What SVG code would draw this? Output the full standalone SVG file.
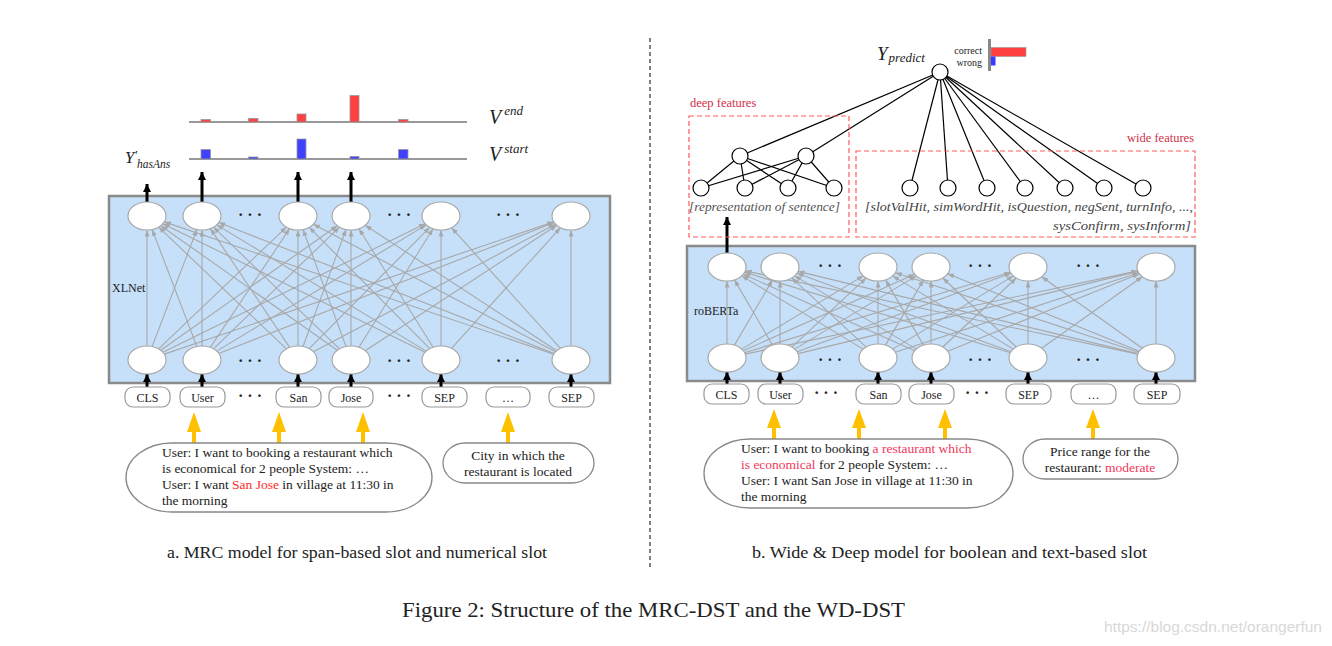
<svg xmlns="http://www.w3.org/2000/svg" width="1332" height="646" viewBox="0 0 1332 646">
<style>
text{font-family:"Liberation Serif","Times New Roman",serif;fill:#222}
.mi{font-style:italic}
.e{stroke:#a8a8a8;stroke-width:1.1;fill:none}
.k{stroke:#000;stroke-width:1.2;fill:none}
.ba{stroke:#000;stroke-width:3;fill:none}
.box{fill:#c6e0fa;stroke:#8a8a8a;stroke-width:2.5}
.nd{fill:#fff;stroke:#aaa;stroke-width:1.2}
.cn{fill:#fff;stroke:#000;stroke-width:1.2}
.tk{fill:#fff;stroke:#999;stroke-width:1.2}
.tt{font-size:12px;text-anchor:middle}
.dots{font-size:16px;text-anchor:middle;font-weight:bold}
.bub{fill:#fff;stroke:#888;stroke-width:1.3}
.bt{font-size:13.5px}
.red{fill:#ff2a2a}
.pink{fill:#f5365c}
.dash{fill:none;stroke:#ff5a5a;stroke-width:1.2;stroke-dasharray:5,3}
.lab{fill:#d0304a;font-size:12.5px}
.ya{fill:#ffc000}
.bl{stroke:#777;stroke-width:1.6}
.rb{fill:#ff4040;stroke:#999;stroke-width:0.8}
.bb{fill:#4040ff;stroke:#999;stroke-width:0.8}
</style>
<defs>
<marker id="ga" markerUnits="userSpaceOnUse" markerWidth="7" markerHeight="6" refX="6.5" refY="2.5" orient="auto"><path d="M0,0 L6.5,2.5 L0,5 z" fill="#a8a8a8"/></marker>
<marker id="ka" markerUnits="userSpaceOnUse" markerWidth="9" markerHeight="9" refX="8" refY="4" orient="auto"><path d="M0,0 L8,4 L0,8 z" fill="#000"/></marker>
</defs>
<rect width="1332" height="646" fill="#fff"/>

<!-- divider -->
<line x1="650" y1="38" x2="650" y2="568" stroke="#000" stroke-width="1" stroke-dasharray="4,3"/>

<!-- ===== LEFT PANEL ===== -->
<g id="xlnet-box">
<rect class="box" x="109" y="196" width="501" height="187"/>
<text x="112" y="292" font-size="12">XLNet</text>
</g>

<g id="left-bars">
<line class="bl" x1="189" y1="122" x2="467" y2="122"/>
<rect class="rb" x="201" y="119.5" width="9.5" height="2.5"/>
<rect class="rb" x="248.5" y="118.5" width="9.5" height="3.5"/>
<rect class="rb" x="297" y="114" width="9" height="8"/>
<rect class="rb" x="350" y="95.5" width="9" height="26.5"/>
<rect class="rb" x="398.5" y="119.5" width="9.5" height="2.5"/>
<line class="bl" x1="189" y1="159" x2="467" y2="159"/>
<rect class="bb" x="201" y="149.5" width="9.5" height="9.5"/>
<rect class="bb" x="248.5" y="157" width="9.5" height="2"/>
<rect class="bb" x="297" y="139" width="9" height="20"/>
<rect class="bb" x="350" y="156.5" width="9" height="2.5"/>
<rect class="bb" x="398.5" y="149.5" width="9.5" height="9.5"/>
<text x="489" y="124" class="mi" font-size="20">V<tspan font-size="13" dx="3" dy="-9">end</tspan></text>
<text x="489" y="161" class="mi" font-size="20">V<tspan font-size="13" dx="3" dy="-8">start</tspan></text>
<text x="125" y="163" class="mi" font-size="16.5">Y<tspan font-size="13" dy="-4">′</tspan><tspan font-size="11.5" dy="9">hasAns</tspan></text>
</g>

<g id="left-edges">
<line class="e" marker-end="url(#ga)" x1="147" y1="346" x2="147" y2="230"/>
<line class="e" marker-end="url(#ga)" x1="152.15" y1="346.52" x2="196.85" y2="229.48"/>
<line class="e" marker-end="url(#ga)" x1="158.62" y1="348.92" x2="286.38" y2="227.08"/>
<line class="e" marker-end="url(#ga)" x1="160.72" y1="350.32" x2="337.28" y2="225.68"/>
<line class="e" marker-end="url(#ga)" x1="162.82" y1="352.25" x2="425.18" y2="223.75"/>
<line class="e" marker-end="url(#ga)" x1="164.26" y1="354.14" x2="553.74" y2="221.86"/>
<line class="e" marker-end="url(#ga)" x1="196.85" y1="346.52" x2="152.15" y2="229.48"/>
<line class="e" marker-end="url(#ga)" x1="202" y1="346" x2="202" y2="230"/>
<line class="e" marker-end="url(#ga)" x1="210.38" y1="347.43" x2="289.62" y2="228.57"/>
<line class="e" marker-end="url(#ga)" x1="213.52" y1="348.87" x2="339.48" y2="227.13"/>
<line class="e" marker-end="url(#ga)" x1="216.71" y1="351.14" x2="426.29" y2="224.86"/>
<line class="e" marker-end="url(#ga)" x1="218.79" y1="353.45" x2="554.21" y2="222.55"/>
<line class="e" marker-end="url(#ga)" x1="286.38" y1="348.92" x2="158.62" y2="227.08"/>
<line class="e" marker-end="url(#ga)" x1="289.62" y1="347.43" x2="210.38" y2="228.57"/>
<line class="e" marker-end="url(#ga)" x1="298" y1="346" x2="298" y2="230"/>
<line class="e" marker-end="url(#ga)" x1="302.97" y1="346.49" x2="346.03" y2="229.51"/>
<line class="e" marker-end="url(#ga)" x1="309.22" y1="348.7" x2="429.78" y2="227.3"/>
<line class="e" marker-end="url(#ga)" x1="313.45" y1="351.85" x2="555.55" y2="224.15"/>
<line class="e" marker-end="url(#ga)" x1="337.28" y1="350.32" x2="160.72" y2="225.68"/>
<line class="e" marker-end="url(#ga)" x1="339.48" y1="348.87" x2="213.52" y2="227.13"/>
<line class="e" marker-end="url(#ga)" x1="346.03" y1="346.49" x2="302.97" y2="229.51"/>
<line class="e" marker-end="url(#ga)" x1="351" y1="346" x2="351" y2="230"/>
<line class="e" marker-end="url(#ga)" x1="358.95" y1="347.28" x2="433.05" y2="228.72"/>
<line class="e" marker-end="url(#ga)" x1="365.2" y1="350.7" x2="556.8" y2="225.3"/>
<line class="e" marker-end="url(#ga)" x1="425.18" y1="352.25" x2="162.82" y2="223.75"/>
<line class="e" marker-end="url(#ga)" x1="426.29" y1="351.14" x2="216.71" y2="224.86"/>
<line class="e" marker-end="url(#ga)" x1="429.78" y1="348.7" x2="309.22" y2="227.3"/>
<line class="e" marker-end="url(#ga)" x1="433.05" y1="347.28" x2="358.95" y2="228.72"/>
<line class="e" marker-end="url(#ga)" x1="441" y1="346" x2="441" y2="230"/>
<line class="e" marker-end="url(#ga)" x1="451.52" y1="348.34" x2="560.48" y2="227.66"/>
<line class="e" marker-end="url(#ga)" x1="553.74" y1="354.14" x2="164.26" y2="221.86"/>
<line class="e" marker-end="url(#ga)" x1="554.21" y1="353.45" x2="218.79" y2="222.55"/>
<line class="e" marker-end="url(#ga)" x1="555.55" y1="351.85" x2="313.45" y2="224.15"/>
<line class="e" marker-end="url(#ga)" x1="556.8" y1="350.7" x2="365.2" y2="225.3"/>
<line class="e" marker-end="url(#ga)" x1="560.48" y1="348.34" x2="451.52" y2="227.66"/>
<line class="e" marker-end="url(#ga)" x1="571" y1="346" x2="571" y2="230"/>
<!-- black arrows -->
<line class="ba" marker-end="url(#ka)" x1="147" y1="202" x2="147" y2="184"/>
<line class="ba" marker-end="url(#ka)" x1="202" y1="202" x2="202" y2="172"/>
<line class="ba" marker-end="url(#ka)" x1="298" y1="202" x2="298" y2="172"/>
<line class="ba" marker-end="url(#ka)" x1="351" y1="202" x2="351" y2="172"/>
<line class="ba" stroke-width="2.5" marker-end="url(#ka)" x1="147" y1="387" x2="147" y2="374"/>
<line class="ba" stroke-width="2.5" marker-end="url(#ka)" x1="202" y1="387" x2="202" y2="374"/>
<line class="ba" stroke-width="2.5" marker-end="url(#ka)" x1="298" y1="387" x2="298" y2="374"/>
<line class="ba" stroke-width="2.5" marker-end="url(#ka)" x1="351" y1="387" x2="351" y2="374"/>
<line class="ba" stroke-width="2.5" marker-end="url(#ka)" x1="441" y1="387" x2="441" y2="374"/>
<line class="ba" stroke-width="2.5" marker-end="url(#ka)" x1="571" y1="387" x2="571" y2="374"/>
<!-- yellow arrows -->
<path class="ya" d="M192,443 V432 H187 L194,412 L201,432 H196 V443 Z"/>
<path class="ya" d="M277,443 V432 H272 L279,412 L286,432 H281 V443 Z"/>
<path class="ya" d="M361,443 V432 H356 L363,412 L370,432 H365 V443 Z"/>
<path class="ya" d="M506,443 V432 H501 L508,412 L515,432 H510 V443 Z"/>
</g>

<g id="left-nodes">
<ellipse class="nd" cx="147" cy="216" rx="19" ry="14"/>
<ellipse class="nd" cx="202" cy="216" rx="19" ry="14"/>
<ellipse class="nd" cx="298" cy="216" rx="19" ry="14"/>
<ellipse class="nd" cx="351" cy="216" rx="19" ry="14"/>
<ellipse class="nd" cx="441" cy="216" rx="19" ry="14"/>
<ellipse class="nd" cx="571" cy="216" rx="19" ry="14"/>
<ellipse class="nd" cx="147" cy="360" rx="19" ry="14"/>
<ellipse class="nd" cx="202" cy="360" rx="19" ry="14"/>
<ellipse class="nd" cx="298" cy="360" rx="19" ry="14"/>
<ellipse class="nd" cx="351" cy="360" rx="19" ry="14"/>
<ellipse class="nd" cx="441" cy="360" rx="19" ry="14"/>
<ellipse class="nd" cx="571" cy="360" rx="19" ry="14"/>
<text class="dots" x="250" y="220">· · ·</text>
<text class="dots" x="399" y="220">· · ·</text>
<text class="dots" x="508" y="220">· · ·</text>
<text class="dots" x="250" y="366">· · ·</text>
<text class="dots" x="399" y="366">· · ·</text>
<text class="dots" x="508" y="366">· · ·</text>
</g>

<g id="left-tokens">
<rect class="tk" x="125" y="387" width="45" height="20" rx="8"/><text class="tt" x="147.5" y="401.5">CLS</text>
<rect class="tk" x="180" y="387" width="45" height="20" rx="8"/><text class="tt" x="202.5" y="401.5">User</text>
<text class="dots" x="250" y="401">· · ·</text>
<rect class="tk" x="276" y="387" width="45" height="20" rx="8"/><text class="tt" x="298.5" y="401.5">San</text>
<rect class="tk" x="329" y="387" width="44" height="20" rx="8"/><text class="tt" x="351" y="401.5">Jose</text>
<text class="dots" x="399" y="401">· · ·</text>
<rect class="tk" x="422" y="387" width="45" height="20" rx="8"/><text class="tt" x="444.5" y="401.5">SEP</text>
<rect class="tk" x="486" y="387" width="44" height="20" rx="8"/><text class="tt" x="508" y="401.5">…</text>
<rect class="tk" x="549" y="387" width="45" height="20" rx="8"/><text class="tt" x="571.5" y="401.5">SEP</text>
</g>

<g id="left-context">
<rect class="bub" x="126" y="443" width="306" height="69" rx="46" ry="34.5"/>
<text class="bt" x="162" y="457">User: I want to booking a restaurant which</text>
<text class="bt" x="162" y="473">is economical for 2 people System: …</text>
<text class="bt" x="162" y="489">User: I want <tspan class="red">San Jose</tspan> in village at 11:30 in</text>
<text class="bt" x="162" y="505">the morning</text>
</g>

<g id="left-slot">
<rect class="bub" x="443" y="443" width="151" height="40" rx="22" ry="20"/>
<text class="bt" x="518" y="460" text-anchor="middle">City in which the</text>
<text class="bt" x="518" y="476" text-anchor="middle">restaurant is located</text>
</g>

<text x="167" y="558" font-size="17.5" textLength="380" lengthAdjust="spacingAndGlyphs">a. MRC model for span-based slot and numerical slot</text>

<!-- ===== RIGHT PANEL ===== -->
<g id="roberta-box">
<rect class="box" x="687" y="246" width="508" height="135"/>
<text x="694" y="315" font-size="12">roBERTa</text>
</g>

<g id="right-edges">
<line class="e" marker-end="url(#ga)" x1="727" y1="344" x2="727" y2="281"/>
<line class="e" marker-end="url(#ga)" x1="734.49" y1="345.13" x2="772.51" y2="279.87"/>
<line class="e" marker-end="url(#ga)" x1="741.71" y1="349.14" x2="863.29" y2="275.86"/>
<line class="e" marker-end="url(#ga)" x1="743.25" y1="350.75" x2="914.75" y2="274.25"/>
<line class="e" marker-end="url(#ga)" x1="744.58" y1="352.69" x2="1010.42" y2="272.31"/>
<line class="e" marker-end="url(#ga)" x1="745.26" y1="354.13" x2="1137.74" y2="270.87"/>
<line class="e" marker-end="url(#ga)" x1="772.51" y1="345.13" x2="734.49" y2="279.87"/>
<line class="e" marker-end="url(#ga)" x1="780" y1="344" x2="780" y2="281"/>
<line class="e" marker-end="url(#ga)" x1="791.81" y1="347.03" x2="866.19" y2="277.97"/>
<line class="e" marker-end="url(#ga)" x1="794.71" y1="349.14" x2="916.29" y2="275.86"/>
<line class="e" marker-end="url(#ga)" x1="797.01" y1="351.76" x2="1010.99" y2="273.24"/>
<line class="e" marker-end="url(#ga)" x1="798.05" y1="353.63" x2="1137.95" y2="271.37"/>
<line class="e" marker-end="url(#ga)" x1="863.29" y1="349.14" x2="741.71" y2="275.86"/>
<line class="e" marker-end="url(#ga)" x1="866.19" y1="347.03" x2="791.81" y2="277.97"/>
<line class="e" marker-end="url(#ga)" x1="878" y1="344" x2="878" y2="281"/>
<line class="e" marker-end="url(#ga)" x1="885.49" y1="345.13" x2="923.51" y2="279.87"/>
<line class="e" marker-end="url(#ga)" x1="892.67" y1="349.1" x2="1013.33" y2="275.9"/>
<line class="e" marker-end="url(#ga)" x1="895.36" y1="352.32" x2="1138.64" y2="272.68"/>
<line class="e" marker-end="url(#ga)" x1="914.75" y1="350.75" x2="743.25" y2="274.25"/>
<line class="e" marker-end="url(#ga)" x1="916.29" y1="349.14" x2="794.71" y2="275.86"/>
<line class="e" marker-end="url(#ga)" x1="923.51" y1="345.13" x2="885.49" y2="279.87"/>
<line class="e" marker-end="url(#ga)" x1="931" y1="344" x2="931" y2="281"/>
<line class="e" marker-end="url(#ga)" x1="942.74" y1="346.99" x2="1016.26" y2="278.01"/>
<line class="e" marker-end="url(#ga)" x1="947.66" y1="351.26" x2="1139.34" y2="273.74"/>
<line class="e" marker-end="url(#ga)" x1="1010.42" y1="352.69" x2="744.58" y2="272.31"/>
<line class="e" marker-end="url(#ga)" x1="1010.99" y1="351.76" x2="797.01" y2="273.24"/>
<line class="e" marker-end="url(#ga)" x1="1013.33" y1="349.1" x2="892.67" y2="275.9"/>
<line class="e" marker-end="url(#ga)" x1="1016.26" y1="346.99" x2="942.74" y2="278.01"/>
<line class="e" marker-end="url(#ga)" x1="1028" y1="344" x2="1028" y2="281"/>
<line class="e" marker-end="url(#ga)" x1="1041.67" y1="348.28" x2="1142.33" y2="276.72"/>
<line class="e" marker-end="url(#ga)" x1="1137.74" y1="354.13" x2="745.26" y2="270.87"/>
<line class="e" marker-end="url(#ga)" x1="1137.95" y1="353.63" x2="798.05" y2="271.37"/>
<line class="e" marker-end="url(#ga)" x1="1138.64" y1="352.32" x2="895.36" y2="272.68"/>
<line class="e" marker-end="url(#ga)" x1="1139.34" y1="351.26" x2="947.66" y2="273.74"/>
<line class="e" marker-end="url(#ga)" x1="1142.33" y1="348.28" x2="1041.67" y2="276.72"/>
<line class="e" marker-end="url(#ga)" x1="1156" y1="344" x2="1156" y2="281"/>
<!-- black arrows -->
<line class="ba" marker-end="url(#ka)" x1="727" y1="253" x2="727" y2="217"/>
<line class="ba" stroke-width="2.5" marker-end="url(#ka)" x1="727" y1="384" x2="727" y2="372"/>
<line class="ba" stroke-width="2.5" marker-end="url(#ka)" x1="780" y1="384" x2="780" y2="372"/>
<line class="ba" stroke-width="2.5" marker-end="url(#ka)" x1="878" y1="384" x2="878" y2="372"/>
<line class="ba" stroke-width="2.5" marker-end="url(#ka)" x1="931" y1="384" x2="931" y2="372"/>
<line class="ba" stroke-width="2.5" marker-end="url(#ka)" x1="1028" y1="384" x2="1028" y2="372"/>
<line class="ba" stroke-width="2.5" marker-end="url(#ka)" x1="1156" y1="384" x2="1156" y2="372"/>
<!-- yellow arrows -->
<path class="ya" d="M772,439 V428 H767 L774,409 L781,428 H776 V439 Z"/>
<path class="ya" d="M857,439 V428 H852 L859,409 L866,428 H861 V439 Z"/>
<path class="ya" d="M943,439 V428 H938 L945,409 L952,428 H947 V439 Z"/>
<path class="ya" d="M1091,439 V428 H1086 L1093,409 L1100,428 H1095 V439 Z"/>
<!-- wide & deep edges -->
<line class="k" x1="940" y1="72" x2="740" y2="156"/>
<line class="k" x1="940" y1="72" x2="806" y2="156"/>
<line class="k" x1="940" y1="72" x2="910" y2="188"/>
<line class="k" x1="940" y1="72" x2="948" y2="188"/>
<line class="k" x1="940" y1="72" x2="987" y2="188"/>
<line class="k" x1="940" y1="72" x2="1025" y2="188"/>
<line class="k" x1="940" y1="72" x2="1065" y2="188"/>
<line class="k" x1="940" y1="72" x2="1104" y2="188"/>
<line class="k" x1="940" y1="72" x2="1143" y2="188"/>
<line class="k" x1="740" y1="156" x2="701" y2="188"/>
<line class="k" x1="740" y1="156" x2="745" y2="188"/>
<line class="k" x1="740" y1="156" x2="788" y2="188"/>
<line class="k" x1="740" y1="156" x2="834" y2="188"/>
<line class="k" x1="806" y1="156" x2="701" y2="188"/>
<line class="k" x1="806" y1="156" x2="745" y2="188"/>
<line class="k" x1="806" y1="156" x2="788" y2="188"/>
<line class="k" x1="806" y1="156" x2="834" y2="188"/>
</g>

<g id="right-nodes">
<ellipse class="nd" cx="727" cy="267" rx="19" ry="14"/>
<ellipse class="nd" cx="780" cy="267" rx="19" ry="14"/>
<ellipse class="nd" cx="878" cy="267" rx="19" ry="14"/>
<ellipse class="nd" cx="931" cy="267" rx="19" ry="14"/>
<ellipse class="nd" cx="1028" cy="267" rx="19" ry="14"/>
<ellipse class="nd" cx="1156" cy="267" rx="19" ry="14"/>
<ellipse class="nd" cx="727" cy="358" rx="19" ry="14"/>
<ellipse class="nd" cx="780" cy="358" rx="19" ry="14"/>
<ellipse class="nd" cx="878" cy="358" rx="19" ry="14"/>
<ellipse class="nd" cx="931" cy="358" rx="19" ry="14"/>
<ellipse class="nd" cx="1028" cy="358" rx="19" ry="14"/>
<ellipse class="nd" cx="1156" cy="358" rx="19" ry="14"/>
<text class="dots" x="830" y="271">· · ·</text>
<text class="dots" x="980" y="271">· · ·</text>
<text class="dots" x="1088" y="271">· · ·</text>
<text class="dots" x="830" y="365">· · ·</text>
<text class="dots" x="980" y="365">· · ·</text>
<text class="dots" x="1088" y="365">· · ·</text>
</g>

<g id="right-tokens">
<rect class="tk" x="704" y="384" width="45" height="20" rx="8"/><text class="tt" x="726.5" y="398.5">CLS</text>
<rect class="tk" x="758" y="384" width="45" height="20" rx="8"/><text class="tt" x="780.5" y="398.5">User</text>
<text class="dots" x="826" y="398">· · ·</text>
<rect class="tk" x="856" y="384" width="45" height="20" rx="8"/><text class="tt" x="878.5" y="398.5">San</text>
<rect class="tk" x="909" y="384" width="45" height="20" rx="8"/><text class="tt" x="931.5" y="398.5">Jose</text>
<text class="dots" x="977" y="398">· · ·</text>
<rect class="tk" x="1006" y="384" width="45" height="20" rx="8"/><text class="tt" x="1028.5" y="398.5">SEP</text>
<rect class="tk" x="1071" y="384" width="45" height="20" rx="8"/><text class="tt" x="1093.5" y="398.5">…</text>
<rect class="tk" x="1134" y="384" width="46" height="20" rx="8"/><text class="tt" x="1157" y="398.5">SEP</text>
</g>

<g id="deep-features">
<rect class="dash" x="689" y="116" width="160" height="121"/>
<text class="lab" x="690" y="107">deep features</text>
<circle class="cn" cx="740" cy="156" r="8"/>
<circle class="cn" cx="806" cy="156" r="8"/>
<circle class="cn" cx="701" cy="188" r="8"/>
<circle class="cn" cx="745" cy="188" r="8"/>
<circle class="cn" cx="788" cy="188" r="8"/>
<circle class="cn" cx="834" cy="188" r="8"/>
<text x="689" y="211" class="mi" font-size="12" style="fill:#555" textLength="151" lengthAdjust="spacingAndGlyphs">[representation of sentence]</text>
</g>

<g id="wide-features">
<rect class="dash" x="856" y="151" width="339" height="86"/>
<text class="lab" x="1194" y="142" text-anchor="end">wide features</text>
<circle class="cn" cx="910" cy="188" r="8"/>
<circle class="cn" cx="948" cy="188" r="8"/>
<circle class="cn" cx="987" cy="188" r="8"/>
<circle class="cn" cx="1025" cy="188" r="8"/>
<circle class="cn" cx="1065" cy="188" r="8"/>
<circle class="cn" cx="1104" cy="188" r="8"/>
<circle class="cn" cx="1143" cy="188" r="8"/>
<text x="865" y="211" class="mi" font-size="12" style="fill:#444" textLength="328" lengthAdjust="spacingAndGlyphs">[slotValHit, simWordHit, isQuestion, negSent, turnInfo, ...,</text>
<text x="1053" y="230" class="mi" font-size="12" style="fill:#444" textLength="138" lengthAdjust="spacingAndGlyphs">sysConfirm, sysInform]</text>
</g>

<g id="y-predict">
<circle class="cn" cx="940" cy="72" r="8"/>
<text x="877" y="60" class="mi" font-size="19">Y<tspan font-size="13" dx="1" dy="2">predict</tspan></text>
<text x="982" y="54" font-size="10" text-anchor="end">correct</text>
<text x="982" y="66" font-size="10" text-anchor="end">wrong</text>
<line x1="989.5" y1="39" x2="989.5" y2="71" stroke="#888" stroke-width="3"/>
<rect x="991" y="47.5" width="35" height="9" fill="#ff4040" stroke="#999" stroke-width="0.6"/>
<rect x="991" y="56.5" width="4.5" height="9" fill="#3a3aff"/>
</g>

<g id="right-context">
<rect class="bub" x="704" y="439" width="309" height="69" rx="46" ry="34.5"/>
<text class="bt" x="741" y="453">User: I want to booking <tspan class="pink">a restaurant which</tspan></text>
<text class="bt" x="741" y="469"><tspan class="pink">is economical</tspan> for 2 people System: …</text>
<text class="bt" x="741" y="485">User: I want San Jose in village at 11:30 in</text>
<text class="bt" x="741" y="501">the morning</text>
</g>

<g id="right-slot">
<rect class="bub" x="1023" y="439" width="155" height="40" rx="22" ry="20"/>
<text class="bt" x="1100" y="456" text-anchor="middle">Price range for the</text>
<text class="bt" x="1100" y="472" text-anchor="middle">restaurant: <tspan class="pink">moderate</tspan></text>
</g>

<text x="752" y="558" font-size="17.5" textLength="395" lengthAdjust="spacingAndGlyphs">b. Wide &amp; Deep model for boolean and text-based slot</text>

<text x="402" y="617" font-size="22" textLength="503" lengthAdjust="spacingAndGlyphs">Figure 2: Structure of the MRC-DST and the WD-DST</text>
<text x="1322" y="632" font-size="15.5" text-anchor="end" style="font-family:'Liberation Sans',Arial,sans-serif;fill:#d8d8d8">https://blog.csdn.net/orangerfun</text>
</svg>
